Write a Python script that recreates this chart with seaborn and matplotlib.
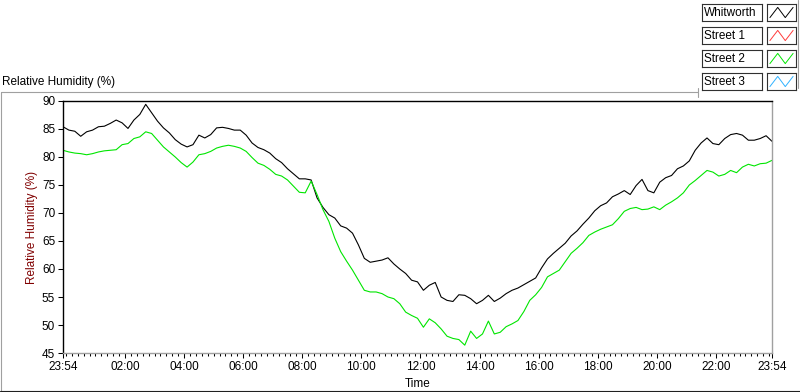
import matplotlib
matplotlib.use("Agg")
import matplotlib.pyplot as plt
import matplotlib.dates as mdates
from matplotlib.lines import Line2D
import numpy as np
import pandas as pd
import seaborn as sns

# readings every 12 minutes, 23:54 -> 23:54 next day
START = "2019-07-01 23:54"
STEP = "12min"

whitworth = [
    85.4, 84.8, 84.6, 83.7, 84.5, 84.8, 85.4, 85.5, 86.0, 86.6,
    86.1, 85.1, 86.6, 87.6, 89.4, 87.9, 86.4, 85.2, 84.3, 83.1,
    82.3, 81.8, 82.2, 83.9, 83.4, 84.0, 85.2, 85.3, 85.1, 84.8,
    84.8, 83.9, 82.5, 81.7, 81.3, 80.7, 79.7, 79.0, 77.9, 77.0,
    76.1, 76.1, 75.9, 72.7, 71.0, 69.7, 69.1, 67.7, 67.3, 66.4,
    64.3, 61.9, 61.2, 61.4, 61.6, 62.0, 60.9, 60.0, 59.2, 58.0,
    57.7, 56.2, 57.1, 57.6, 55.0, 54.4, 54.2, 55.4, 55.3, 54.7,
    53.8, 54.4, 55.3, 54.2, 54.8, 55.6, 56.2, 56.6, 57.2, 57.8,
    58.4, 60.2, 61.8, 62.8, 63.7, 64.6, 65.9, 66.8, 68.0, 69.1,
    70.4, 71.3, 71.8, 72.9, 73.4, 74.0, 73.3, 74.9, 76.0, 74.0,
    73.6, 75.5, 76.3, 76.7, 77.9, 78.4, 79.3, 81.2, 82.5, 83.4,
    82.4, 82.2, 83.3, 84.0, 84.2, 83.9, 83.0, 83.0, 83.3, 83.8,
    82.8,
]

street_2 = [
    81.2, 80.9, 80.7, 80.6, 80.4, 80.6, 80.9, 81.1, 81.2, 81.3,
    82.2, 82.4, 83.3, 83.6, 84.5, 84.2, 83.0, 81.8, 80.9, 80.0,
    79.0, 78.2, 79.1, 80.4, 80.6, 81.0, 81.6, 81.9, 82.1, 81.9,
    81.6, 81.0, 79.9, 78.9, 78.5, 77.8, 76.9, 76.6, 75.9, 74.8,
    73.7, 73.6, 75.7, 73.3, 70.6, 68.5, 65.5, 63.1, 61.4, 59.8,
    58.0, 56.2, 55.9, 55.9, 55.6, 55.0, 54.7, 53.8, 52.3, 51.7,
    51.2, 49.6, 51.1, 50.4, 49.3, 48.0, 47.6, 47.4, 46.4, 48.9,
    47.6, 48.4, 50.7, 48.4, 48.7, 49.7, 50.2, 50.8, 52.4, 54.4,
    55.4, 56.7, 58.6, 59.2, 59.8, 61.3, 62.8, 63.7, 64.7, 66.0,
    66.6, 67.1, 67.5, 67.9, 69.0, 70.3, 70.8, 71.0, 70.6, 70.7,
    71.1, 70.6, 71.4, 72.0, 72.7, 73.6, 75.0, 75.8, 76.7, 77.6,
    77.3, 76.6, 76.9, 77.6, 77.2, 78.2, 78.7, 78.4, 78.8, 78.9,
    79.4,
]

legend_names = ["Whitworth", "Street 1", "Street 2", "Street 3"]
legend_colors = ["#000000", "#ff3b3b", "#00e600", "#2fb2ff"]
y_ticks = [45, 50, 55, 60, 65, 70, 75, 80, 85, 90]
major_hours = ["02:00", "04:00", "06:00", "08:00", "10:00", "12:00",
               "14:00", "16:00", "18:00", "20:00", "22:00"]

W, H = 800, 392
FS = 8.5


def fx(px):
    return px / W


def fy(py):
    return 1 - py / H


sns.set_theme(style="white")
plt.rcParams["font.family"] = ["Liberation Sans", "DejaVu Sans"]
plt.rcParams["font.size"] = FS

n = len(whitworth)
times = pd.date_range(START, periods=n, freq=STEP)
df = pd.DataFrame({
    "Time": list(times) + list(times),
    "RH": whitworth + street_2,
    "Sensor": ["Whitworth"] * n + ["Street 2"] * n,
})

fig = plt.figure(figsize=(W / 100, H / 100), dpi=100)
ax = fig.add_axes([fx(63), fy(353), 709 / W, 252 / H])

sns.lineplot(data=df, x="Time", y="RH", hue="Sensor",
             palette={"Whitworth": legend_colors[0], "Street 2": legend_colors[2]},
             estimator=None, legend=False, lw=0.8, ax=ax)

# axes
ax.set_xlim(times[0], times[-1])
ax.set_ylim(45, 90)
ax.set_yticks(y_ticks)
day2 = times[-1].strftime("%Y-%m-%d")
majors = [times[0]] + [pd.Timestamp(f"{day2} {h}") for h in major_hours] + [times[-1]]
ax.set_xticks(mdates.date2num(majors))
ax.xaxis.set_major_formatter(mdates.DateFormatter("%H:%M"))
ax.xaxis.set_minor_locator(mdates.MinuteLocator(byminute=range(0, 60, 12)))

ax.tick_params(axis="both", which="major", direction="out", length=3.6, width=0.75,
               color="black", labelsize=FS, labelcolor="black", pad=2.0,
               bottom=True, left=True)
ax.tick_params(axis="x", which="minor", direction="out", length=2.0, width=0.75,
               color="black", bottom=True)

for side in ["top", "left"]:
    ax.spines[side].set_color("black")
    ax.spines[side].set_linewidth(1.0)
for side in ["bottom", "right"]:
    ax.spines[side].set_color("#a0a0a0")
    ax.spines[side].set_linewidth(1.0)

ax.set_ylabel("Relative Humidity (%)", color="#800000", fontsize=FS)
ax.yaxis.set_label_coords(-31 / 709, 0.5)
ax.yaxis.label.set_verticalalignment("center")
ax.set_xlabel("Time", color="black", fontsize=FS)
ax.xaxis.set_label_coords(0.5, -31 / 252)
ax.xaxis.label.set_verticalalignment("center")

# graph caption and panel frame
fig.text(fx(2), fy(82), "Relative Humidity (%)", ha="left", va="center",
         fontsize=FS, color="black")
frame = [((0.5, 698), (92, 92), "#a0a0a0"),
         ((0.5, 0.5), (92, 391), "#a0a0a0"),
         ((0, 800), (391, 391), "#202020"),
         ((798, 798), (0, 88), "#a0a0a0"),
         ((698, 698), (88, 97), "#a0a0a0")]
for xs, ys, col in frame:
    fig.add_artist(Line2D([fx(x) for x in xs], [fy(y) for y in ys],
                          transform=fig.transFigure, color=col, lw=0.8))

# plot legend: name box + sample box per row
for i, (name, col) in enumerate(zip(legend_names, legend_colors)):
    top = 4 + i * 23
    name_ax = fig.add_axes([fx(702), fy(top + 17), 60 / W, 17 / H])
    name_ax.set_xticks([])
    name_ax.set_yticks([])
    for sp in name_ax.spines.values():
        sp.set_color("#303030")
        sp.set_linewidth(0.8)
    name_ax.text(0.04, 0.45, name, transform=name_ax.transAxes, ha="left",
                 va="center", fontsize=FS, color="black")

    line_ax = fig.add_axes([fx(767), fy(top + 17), 29 / W, 17 / H])
    line_ax.set_xticks([])
    line_ax.set_yticks([])
    for sp in line_ax.spines.values():
        sp.set_color("#303030")
        sp.set_linewidth(0.8)
    line_ax.plot([0.1, 0.37, 0.63, 0.9], [0.2, 0.8, 0.2, 0.8], color=col, lw=0.7)
    line_ax.set_xlim(0, 1)
    line_ax.set_ylim(0, 1)

fig.savefig("out.png", dpi=100)
